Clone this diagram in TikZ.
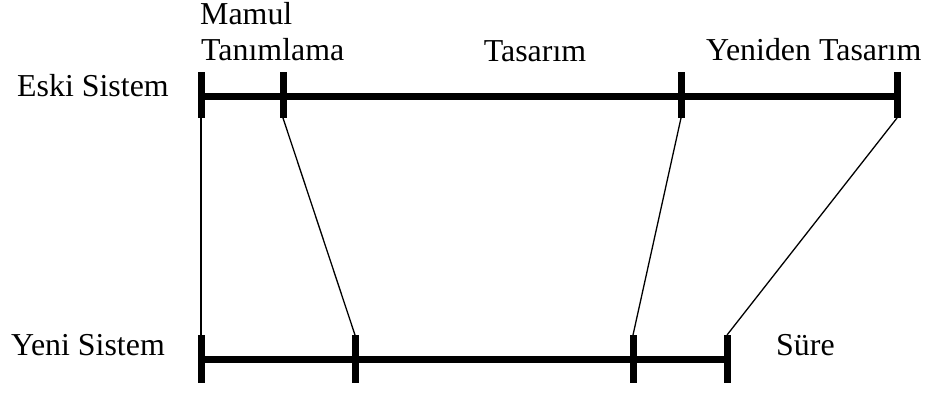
\documentclass[tikz,border=0pt]{standalone}
\usepackage{fontspec}
\setmainfont{Liberation Serif}
\begin{document}
\begin{tikzpicture}[x=1pt,y=-1pt,
  lbl/.style={inner sep=0pt,font=\fontsize{31.9}{36}\selectfont},
  bar/.style={line width=7pt},
  tick/.style={line width=7pt},
  link/.style={line width=1.3pt}]
\useasboundingbox (0,0) rectangle (928,392);
% labels
\node[lbl,anchor=base west] (eski) at (17,96) {Eski Sistem};
\node[lbl,anchor=base west] (yeni) at (11,355) {Yeni Sistem};
\node[lbl,anchor=base west] (mamul) at (200,24.5) {Mamul};
\node[lbl,anchor=base west] (tanim) at (201,60) {Tanımlama};
\node[lbl,anchor=base] (tasarim) at (535,61) {Tasarım};
\node[lbl,anchor=base west] (yeniden) at (706,60) {Yeniden Tasarım};
\node[lbl,anchor=base west] (sure) at (776,355) {Süre};
% top ticks
\coordinate (t1a) at (201,72); \coordinate (t1b) at (201,118);
\coordinate (t2a) at (283,72); \coordinate (t2b) at (283,118);
\coordinate (t3a) at (681,72); \coordinate (t3b) at (681,118);
\coordinate (t4a) at (897,72); \coordinate (t4b) at (897,118);
\coordinate (tl) at (201,96); \coordinate (tr) at (897,96);
% bottom ticks
\coordinate (b1a) at (201,335); \coordinate (b1b) at (201,383);
\coordinate (b2a) at (355,335); \coordinate (b2b) at (355,383);
\coordinate (b3a) at (633,335); \coordinate (b3b) at (633,383);
\coordinate (b4a) at (727,335); \coordinate (b4b) at (727,383);
\coordinate (bl) at (201,359.5); \coordinate (br) at (727,359.5);
% bars
\draw[bar] (tl) -- (tr);
\draw[bar] (bl) -- (br);
\foreach \p in {t1,t2,t3,t4,b1,b2,b3,b4}{\draw[tick] (\p a) -- (\p b);}
% links
\draw[link] (t1b) -- (b1a);
\draw[link] (t2b) -- (b2a);
\draw[link] (t3b) -- (b3a);
\draw[link] (t4b) -- (b4a);
\end{tikzpicture}
\end{document}
